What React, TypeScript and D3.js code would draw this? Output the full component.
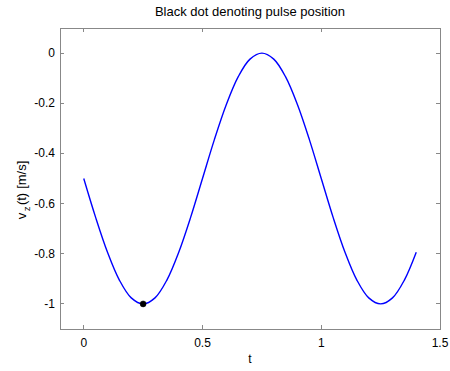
import React from "react";
import * as d3 from "d3";

const tValues = [0, 0.05, 0.1, 0.15, 0.2, 0.25, 0.3, 0.35, 0.4, 0.45, 0.5, 0.55, 0.6, 0.65, 0.7, 0.75, 0.8, 0.85, 0.9, 0.95, 1.0, 1.05, 1.1, 1.15, 1.2, 1.25, 1.3, 1.35, 1.4];
const vzValues = [-0.5, -0.655, -0.794, -0.905, -0.976, -1.0, -0.976, -0.905, -0.794, -0.655, -0.5, -0.345, -0.206, -0.095, -0.024, 0.0, -0.024, -0.095, -0.206, -0.345, -0.5, -0.655, -0.794, -0.905, -0.976, -1.0, -0.976, -0.905, -0.794];
const pulseT = [0.25];
const pulseV = [-1.0];
const xTicks = [0, 0.5, 1, 1.5];
const yTicks = [0, -0.2, -0.4, -0.6, -0.8, -1];
const titleText = "Black dot denoting pulse position";

const W = 450, H = 371;
const L = 60, R = 440, T = 28, B = 329;
const FONT = "'Liberation Sans', Arial, Helvetica, sans-serif";
const AX = "#888";

export default function App() {
  const x = d3.scaleLinear().domain([-0.1, 1.5]).range([L, R]);
  const y = d3.scaleLinear().domain([-1.1, 0.1]).range([B, T]);
  const pts = tValues.map((t, i) => [t, vzValues[i]] as [number, number]);
  const line = d3.line<[number, number]>().x(d => x(d[0])).y(d => y(d[1])).curve(d3.curveCatmullRom.alpha(0.5));
  const fmt = (v: number) => (v === 0 ? "0" : String(v));
  return (
    <svg width={W} height={H} style={{ position: "absolute", left: 0, top: 0, background: "#fff" }}>
      <rect x={0} y={0} width={W} height={H} fill="#fff" />
      <rect x={L} y={T} width={R - L} height={B - T} fill="none" stroke={AX} strokeWidth={1} shapeRendering="crispEdges" />
      {xTicks.map(t => (
        <g key={"x" + t}>
          <line x1={x(t)} x2={x(t)} y1={B} y2={B - 4} stroke={AX} shapeRendering="crispEdges" />
          <line x1={x(t)} x2={x(t)} y1={T} y2={T + 4} stroke={AX} shapeRendering="crispEdges" />
          <text x={x(t)} y={347} textAnchor="middle" fontFamily={FONT} fontSize={12} fill="#000">{fmt(t)}</text>
        </g>
      ))}
      {yTicks.map(v => (
        <g key={"y" + v}>
          <line x1={L} x2={L + 4} y1={y(v)} y2={y(v)} stroke={AX} shapeRendering="crispEdges" />
          <line x1={R} x2={R - 4} y1={y(v)} y2={y(v)} stroke={AX} shapeRendering="crispEdges" />
          <text x={55} y={y(v) + 4} textAnchor="end" fontFamily={FONT} fontSize={12} fill="#000">{fmt(v)}</text>
        </g>
      ))}
      <path d={line(pts) || ""} fill="none" stroke="#0000ff" strokeWidth={1.4} />
      {pulseT.map((t, i) => (
        <circle key={"p" + i} cx={x(t)} cy={y(pulseV[i])} r={3} fill="#000" stroke="#000" strokeWidth={0.5} />
      ))}
      <text x={250} y={16} textAnchor="middle" fontFamily={FONT} fontSize={13} fill="#000">{titleText}</text>
      <text x={250} y={363} textAnchor="middle" fontFamily={FONT} fontSize={12} fill="#000">t</text>
      <text transform={`translate(26,190) rotate(-90)`} textAnchor="middle" fontFamily={FONT} fontSize={13} fill="#000">
        v<tspan fontSize={9.5} dx={1.5} dy={4}>z</tspan><tspan dx={1.5} dy={-4}>(t)</tspan><tspan dx={4}>[m/s]</tspan>
      </text>
    </svg>
  );
}
